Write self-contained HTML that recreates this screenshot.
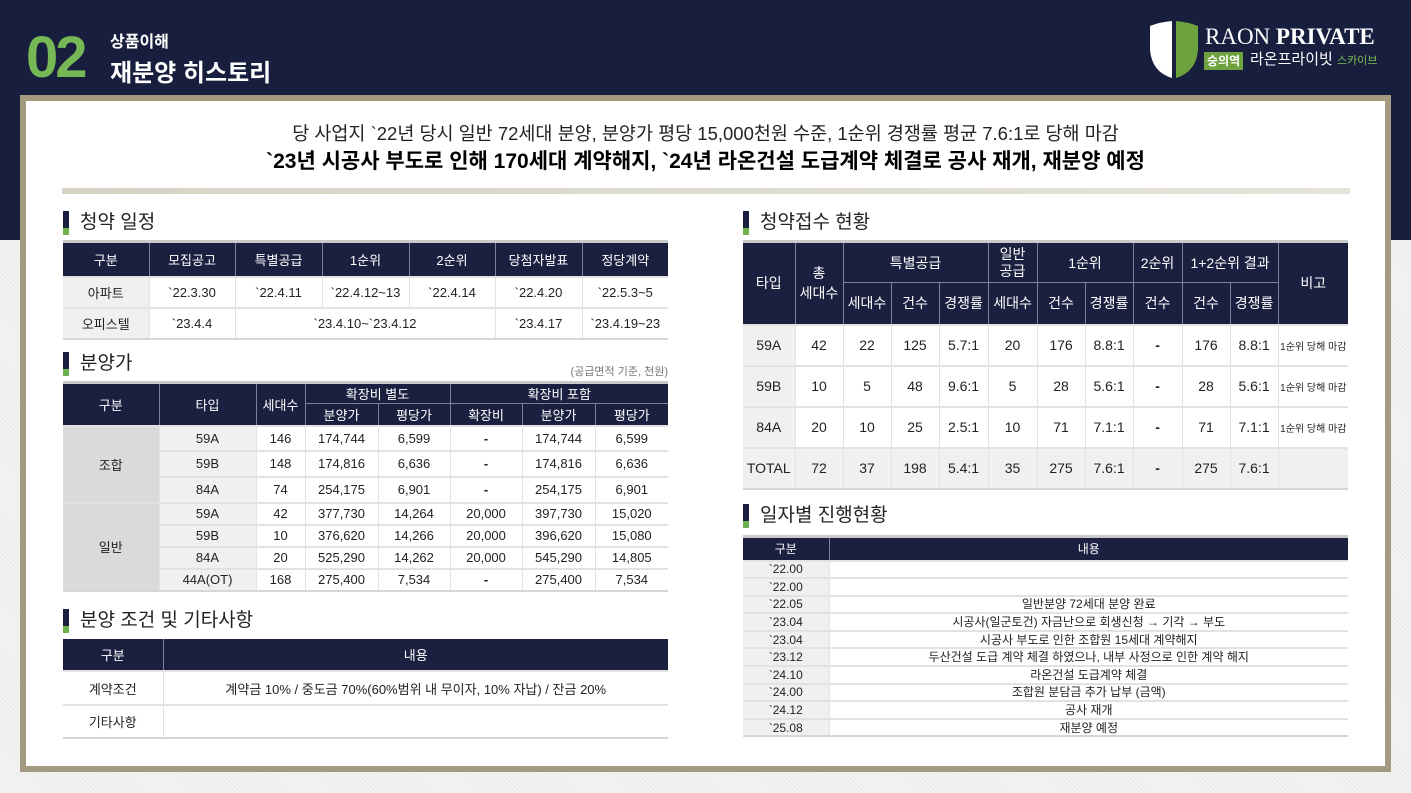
<!DOCTYPE html>
<html><head><meta charset="utf-8">
<style>
*{margin:0;padding:0;box-sizing:border-box}
body{width:1411px;height:793px;position:relative;overflow:hidden;font-family:"Liberation Sans","Noto Sans CJK KR",sans-serif;background:repeating-linear-gradient(45deg,#f4f4f4 0 2px,#e9e9e9 2px 3px)}
.top{position:absolute;left:0;top:0;width:1411px;height:240px;background:#181e3d}
.frame{position:absolute;left:20px;top:95px;width:1371px;height:677px;background:#a39a80;padding:6px}
.inner{width:100%;height:100%;background:#fff}
.abs{position:absolute}
.sec{position:absolute;font-size:19px;color:#222;line-height:24px;padding-left:17px}
.sec:before{content:"";position:absolute;left:0;top:0;width:6px;height:17px;background:#1b2040}
.sec:after{content:"";position:absolute;left:0;top:17px;width:6px;height:7px;background:#6db24f}
table{position:absolute;border-collapse:collapse;table-layout:fixed;border-top:3px solid #c9c9c9;border-bottom:2px solid #d6d6d6}
td,th{text-align:center;vertical-align:middle;font-weight:normal;white-space:nowrap;overflow:hidden;color:#222}
th{background:#1b2040;color:#fff;border:1px solid #7d8296;border-top:none}
td{border:1px solid #e2e2e2;border-width:2px 1px 0 1px}
tr>*:first-child{border-left:none}
tr>*:last-child{border-right:none}
.g1{background:#f0f0f0}
.g2{background:#dadada}
.d{font-weight:bold}
.tl td{height:17.6px;line-height:14px;padding:0}
</style></head><body>
<div class="top"></div>
<div class="abs" style="left:26px;top:26px;font-size:58px;font-weight:bold;color:#76b856;letter-spacing:-3px;line-height:64px">02</div>
<div class="abs" style="left:110px;top:28px;font-size:16px;font-weight:bold;color:#fff">상품이해</div>
<div class="abs" style="left:110px;top:53px;font-size:24px;font-weight:bold;color:#fff">재분양 히스토리</div>
<svg class="abs" style="left:1148px;top:20px" width="52" height="60" viewBox="0 0 52 60">
<path d="M2 6 Q12 2 24 1 L24 58 Q4 52 2 30 Z" fill="#fff"/>
<path d="M28 1 Q40 2 50 6 L50 30 Q48 52 28 58 Z" fill="#6ea23e"/>
</svg>
<div class="abs" style="left:1205px;top:24px;font-family:'Liberation Serif',serif;font-size:23px;color:#fff;line-height:26px">RAON <b>PRIVATE</b></div>
<div class="abs" style="left:1204px;top:52px;background:#6ea23e;color:#fff;font-size:12px;font-weight:bold;padding:1px 3px;line-height:16px">숭의역</div>
<div class="abs" style="left:1250px;top:50px;color:#fff;font-size:15px;line-height:20px">라온프라이빗 <span style="color:#7cbf52;font-size:11px">스카이브</span></div>
<div class="frame"><div class="inner"></div></div>
<div class="abs" style="left:0;width:1411px;top:122px;text-align:center;font-size:18.5px;color:#222;line-height:24px">당 사업지 `22년 당시 일반 72세대 분양, 분양가 평당 15,000천원 수준, 1순위 경쟁률 평균 7.6:1로 당해 마감</div>
<div class="abs" style="left:0;width:1411px;top:148px;text-align:center;font-size:21px;font-weight:bold;color:#000;line-height:28px">`23년 시공사 부도로 인해 170세대 계약해지, `24년 라온건설 도급계약 체결로 공사 재개, 재분양 예정</div>
<div class="abs" style="left:62px;top:188px;width:1288px;height:6px;background:linear-gradient(90deg,#d6d2c4,#e6e3da)"></div>

<div class="sec" style="left:63px;top:211px">청약 일정</div>
<table style="left:63px;top:240px;width:605px;font-size:13px">
<colgroup><col style="width:86px"><col style="width:86px"><col style="width:87px"><col style="width:87px"><col style="width:86px"><col style="width:87px"><col style="width:86px"></colgroup>
<tr style="height:35px"><th>구분</th><th>모집공고</th><th>특별공급</th><th>1순위</th><th>2순위</th><th>당첨자발표</th><th>정당계약</th></tr>
<tr style="height:31px"><td class="g1">아파트</td><td>`22.3.30</td><td>`22.4.11</td><td>`22.4.12~13</td><td>`22.4.14</td><td>`22.4.20</td><td>`22.5.3~5</td></tr>
<tr style="height:31px"><td class="g1">오피스텔</td><td>`23.4.4</td><td colspan="3">`23.4.10~`23.4.12</td><td>`23.4.17</td><td>`23.4.19~23</td></tr>
</table>

<div class="sec" style="left:63px;top:352px">분양가</div>
<div class="abs" style="left:560px;top:363px;width:108px;text-align:right;font-size:11px;color:#777">(공급면적 기준, 천원)</div>
<table style="left:63px;top:381px;width:605px;font-size:13px">
<colgroup><col style="width:96px"><col style="width:97px"><col style="width:49px"><col style="width:73px"><col style="width:72px"><col style="width:72px"><col style="width:73px"><col style="width:73px"></colgroup>
<tr style="height:21px"><th rowspan="2">구분</th><th rowspan="2">타입</th><th rowspan="2">세대수</th><th colspan="2">확장비 별도</th><th colspan="3">확장비 포함</th></tr>
<tr style="height:22px"><th>분양가</th><th>평당가</th><th>확장비</th><th>분양가</th><th>평당가</th></tr>
<tr style="height:25px"><td class="g2" rowspan="3">조합</td><td class="g1">59A</td><td>146</td><td>174,744</td><td>6,599</td><td class="d">-</td><td>174,744</td><td>6,599</td></tr>
<tr style="height:26px"><td class="g1">59B</td><td>148</td><td>174,816</td><td>6,636</td><td class="d">-</td><td>174,816</td><td>6,636</td></tr>
<tr style="height:26px"><td class="g1">84A</td><td>74</td><td>254,175</td><td>6,901</td><td class="d">-</td><td>254,175</td><td>6,901</td></tr>
<tr style="height:22px"><td class="g2" rowspan="4">일반</td><td class="g1">59A</td><td>42</td><td>377,730</td><td>14,264</td><td>20,000</td><td>397,730</td><td>15,020</td></tr>
<tr style="height:22px"><td class="g1">59B</td><td>10</td><td>376,620</td><td>14,266</td><td>20,000</td><td>396,620</td><td>15,080</td></tr>
<tr style="height:22px"><td class="g1">84A</td><td>20</td><td>525,290</td><td>14,262</td><td>20,000</td><td>545,290</td><td>14,805</td></tr>
<tr style="height:22px"><td class="g1">44A(OT)</td><td>168</td><td>275,400</td><td>7,534</td><td class="d">-</td><td>275,400</td><td>7,534</td></tr>
</table>

<div class="sec" style="left:63px;top:609px">분양 조건 및 기타사항</div>
<table style="left:63px;top:639px;width:605px;font-size:13px;border-top:none">
<colgroup><col style="width:100px"><col style="width:505px"></colgroup>
<tr style="height:32px"><th>구분</th><th>내용</th></tr>
<tr style="height:34px"><td>계약조건</td><td>계약금 10% / 중도금 70%(60%범위 내 무이자, 10% 자납) / 잔금 20%</td></tr>
<tr style="height:33px"><td>기타사항</td><td></td></tr>
</table>

<div class="sec" style="left:743px;top:211px">청약접수 현황</div>
<table style="left:743px;top:240px;width:605px;font-size:14px">
<colgroup><col style="width:52px"><col style="width:48px"><col style="width:48px"><col style="width:48px"><col style="width:49px"><col style="width:49px"><col style="width:48px"><col style="width:48px"><col style="width:49px"><col style="width:48px"><col style="width:48px"><col style="width:70px"></colgroup>
<tr style="height:41px"><th rowspan="2">타입</th><th rowspan="2">총<br>세대수</th><th colspan="3">특별공급</th><th style="line-height:17px">일반<br>공급</th><th colspan="2">1순위</th><th>2순위</th><th colspan="2">1+2순위 결과</th><th rowspan="2">비고</th></tr>
<tr style="height:42px"><th>세대수</th><th>건수</th><th>경쟁률</th><th>세대수</th><th>건수</th><th>경쟁률</th><th>건수</th><th>건수</th><th>경쟁률</th></tr>
<tr style="height:41px"><td class="g1">59A</td><td>42</td><td>22</td><td>125</td><td>5.7:1</td><td>20</td><td>176</td><td>8.8:1</td><td class="d">-</td><td>176</td><td>8.8:1</td><td style="font-size:10px">1순위 당해 마감</td></tr>
<tr style="height:41px"><td class="g1">59B</td><td>10</td><td>5</td><td>48</td><td>9.6:1</td><td>5</td><td>28</td><td>5.6:1</td><td class="d">-</td><td>28</td><td>5.6:1</td><td style="font-size:10px">1순위 당해 마감</td></tr>
<tr style="height:41px"><td class="g1">84A</td><td>20</td><td>10</td><td>25</td><td>2.5:1</td><td>10</td><td>71</td><td>7.1:1</td><td class="d">-</td><td>71</td><td>7.1:1</td><td style="font-size:10px">1순위 당해 마감</td></tr>
<tr style="height:41px;background:#f0f0f0"><td>TOTAL</td><td>72</td><td>37</td><td>198</td><td>5.4:1</td><td>35</td><td>275</td><td>7.6:1</td><td class="d">-</td><td>275</td><td>7.6:1</td><td></td></tr>
</table>

<div class="sec" style="left:743px;top:504px">일자별 진행현황</div>
<table class="tl" style="left:743px;top:535px;width:605px;font-size:12px">
<colgroup><col style="width:86px"><col style="width:519px"></colgroup>
<tr style="height:24px"><th>구분</th><th>내용</th></tr>
<tr><td class="g1">`22.00</td><td></td></tr>
<tr><td class="g1">`22.00</td><td></td></tr>
<tr><td class="g1">`22.05</td><td>일반분양 72세대 분양 완료</td></tr>
<tr><td class="g1">`23.04</td><td>시공사(일군토건) 자금난으로 회생신청 → 기각 → 부도</td></tr>
<tr><td class="g1">`23.04</td><td>시공사 부도로 인한 조합원 15세대 계약해지</td></tr>
<tr><td class="g1">`23.12</td><td>두산건설 도급 계약 체결 하였으나, 내부 사정으로 인한 계약 해지</td></tr>
<tr><td class="g1">`24.10</td><td>라온건설 도급계약 체결</td></tr>
<tr><td class="g1">`24.00</td><td>조합원 분담금 추가 납부 (금액)</td></tr>
<tr><td class="g1">`24.12</td><td>공사 재개</td></tr>
<tr><td class="g1">`25.08</td><td>재분양 예정</td></tr>
</table>
</body></html>
